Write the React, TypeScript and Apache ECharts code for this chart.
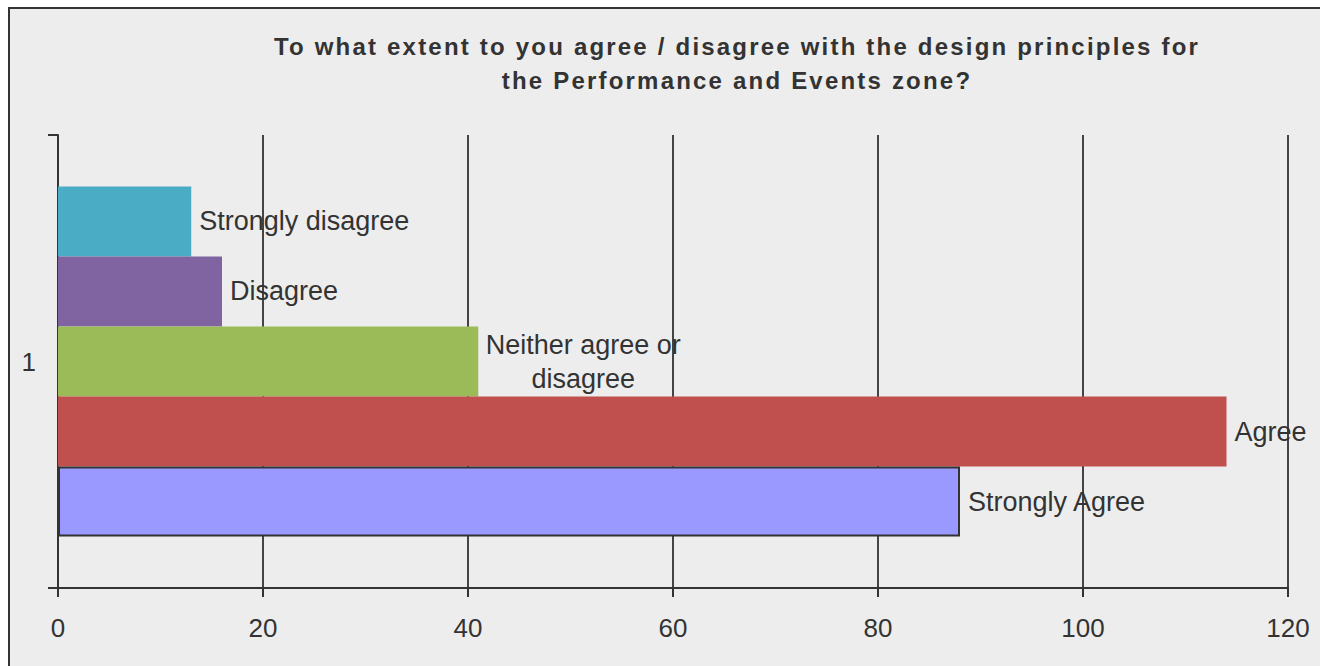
import React, { useEffect, useRef } from "react";
import * as echarts from "echarts";

const categories = ["1"];
const seriesNames = ["Strongly disagree", "Disagree", "Neither agree or\ndisagree", "Agree", "Strongly Agree"];
const seriesValues = [13, 16, 41, 114, 88];
const seriesColors = ["#4BACC6", "#8064A2", "#9BBB59", "#C0504D", "#9999FF"];
const xTicks = { min: 0, max: 120, interval: 20 };
const titleLines = [
  "To what extent to you agree / disagree with the design principles for",
  "the Performance and Events zone?",
];

const FONT = "'Liberation Sans', Arial, sans-serif";

export default function App() {
  const ref = useRef<HTMLDivElement>(null);
  useEffect(() => {
    if (!ref.current) return;
    const chart = echarts.init(ref.current, undefined, { renderer: "svg" });
    const series = seriesNames.map((name, i) => {
      const isNeither = name.indexOf("\n") >= 0;
      const bordered = name === "Strongly Agree";
      return {
        type: "bar",
        name,
        data: [seriesValues[i]],
        barGap: "0%",
        barCategoryGap: "22.7%",
        itemStyle: {
          color: seriesColors[i],
          borderColor: bordered ? "#333333" : undefined,
          borderWidth: bordered ? 2 : 0,
        },
        label: {
          show: true,
          position: "right",
          distance: 8,
          formatter: () => name,
          fontSize: 27,
          fontFamily: FONT,
          color: "#333333",
          lineHeight: 34,
          align: isNeither ? "center" : "left",
          offset: isNeither ? [97, 0] : [0, 0],
        },
      };
    });
    chart.setOption({
      animation: false,
      backgroundColor: "#ededed",
      textStyle: { fontFamily: FONT },
      graphic: titleLines.map((t, i) => ({
        type: "text",
        x: 727,
        y: 36 + i * 34,
        style: {
          text: t,
          fill: "#333333",
          font: `bold 24px ${FONT}`,
          textAlign: "center",
          textVerticalAlign: "middle",
        },
      })),
      grid: { left: 48, right: 32, top: 125, bottom: 78, containLabel: false },
      xAxis: {
        type: "value",
        min: xTicks.min,
        max: xTicks.max,
        interval: xTicks.interval,
        axisLine: { show: true, lineStyle: { color: "#333333", width: 2 } },
        axisTick: { show: true, length: 9, lineStyle: { color: "#333333", width: 2 } },
        splitLine: { show: true, lineStyle: { color: "#444444", width: 2 } },
        axisLabel: { fontSize: 26, color: "#333333", margin: 27, fontFamily: FONT },
      },
      yAxis: {
        type: "category",
        data: categories,
        axisLine: { show: true, lineStyle: { color: "#333333", width: 2 } },
        axisTick: { show: true, length: 10, lineStyle: { color: "#333333", width: 2 } },
        axisLabel: { fontSize: 26, color: "#333333", margin: 22, fontFamily: FONT },
        splitLine: { show: false },
      },
      series,
    });
    return () => chart.dispose();
  }, []);
  return (
    <div
      className="chartbox"
      style={{
        position: "fixed",
        left: 8,
        top: 7,
        width: 1312,
        height: 659,
        boxSizing: "border-box",
        borderTop: "2px solid #333",
        borderLeft: "2px solid #333",
        background: "#ededed",
        overflow: "hidden",
      }}
    >
      <style>{`.chartbox svg text[style*="bold"] { letter-spacing: 2.2px; }`}</style>
      <div ref={ref} style={{ position: "absolute", left: 0, top: 1, width: 1310, height: 656 }} />
    </div>
  );
}
